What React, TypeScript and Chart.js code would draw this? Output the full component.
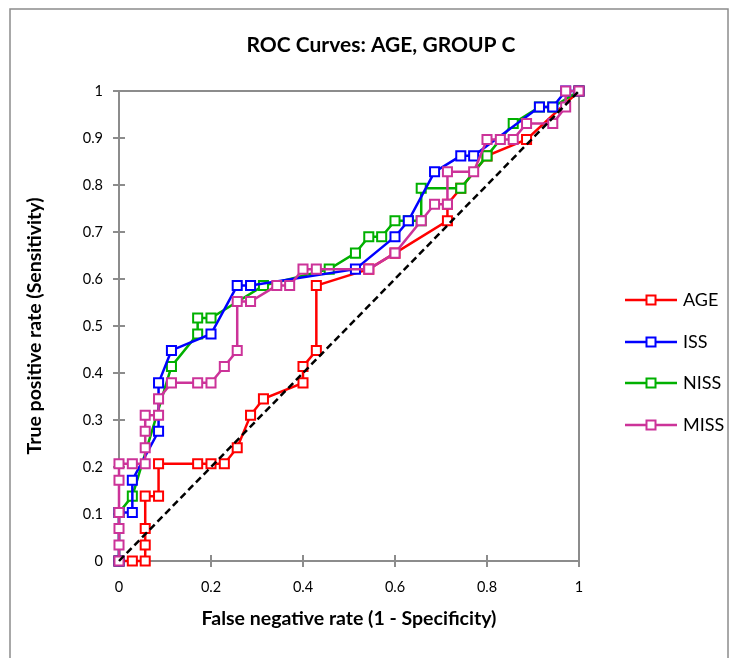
import React, { useEffect, useRef } from "react";
import { Chart, registerables } from "chart.js";

Chart.register(...registerables);

const TITLE = "ROC Curves: AGE, GROUP C";
const X_TITLE = "False negative rate (1 - Specificity)";
const Y_TITLE = "True positive rate (Sensitivity)";
const SERIES_NAMES = ["AGE", "ISS", "NISS", "MISS"];
const SERIES_COLORS = ["#FF0000", "#0000FF", "#00B000", "#CC3399"];

const AGE_X = [0, 0.029, 0.057, 0.057, 0.057, 0.057, 0.086, 0.086, 0.171, 0.2, 0.229, 0.257, 0.286, 0.314, 0.4, 0.4, 0.429, 0.429, 0.543, 0.6, 0.714, 0.714, 0.743, 0.8, 0.886, 1];
const AGE_Y = [0, 0, 0, 0.034, 0.069, 0.138, 0.138, 0.207, 0.207, 0.207, 0.207, 0.241, 0.31, 0.345, 0.379, 0.414, 0.448, 0.586, 0.621, 0.655, 0.724, 0.759, 0.793, 0.862, 0.897, 1];

const ISS_X = [0, 0, 0.029, 0.029, 0.086, 0.086, 0.114, 0.2, 0.257, 0.286, 0.514, 0.6, 0.629, 0.686, 0.743, 0.771, 0.914, 0.943, 0.971, 1];
const ISS_Y = [0, 0.103, 0.103, 0.172, 0.276, 0.379, 0.448, 0.483, 0.586, 0.586, 0.621, 0.69, 0.724, 0.828, 0.862, 0.862, 0.966, 0.966, 1, 1];

const NISS_X = [0, 0, 0.029, 0.114, 0.171, 0.171, 0.2, 0.314, 0.457, 0.514, 0.543, 0.571, 0.6, 0.629, 0.657, 0.657, 0.743, 0.8, 0.857, 0.914, 0.943, 1];
const NISS_Y = [0, 0.103, 0.138, 0.414, 0.483, 0.517, 0.517, 0.586, 0.621, 0.655, 0.69, 0.69, 0.724, 0.724, 0.724, 0.793, 0.793, 0.862, 0.931, 0.966, 0.966, 1];

const MISS_X = [0, 0, 0, 0, 0, 0, 0.029, 0.057, 0.057, 0.057, 0.057, 0.086, 0.086, 0.114, 0.171, 0.2, 0.229, 0.257, 0.257, 0.286, 0.343, 0.371, 0.4, 0.429, 0.543, 0.6, 0.657, 0.686, 0.714, 0.714, 0.771, 0.8, 0.829, 0.857, 0.886, 0.943, 0.971, 0.971, 1];
const MISS_Y = [0, 0.034, 0.069, 0.103, 0.172, 0.207, 0.207, 0.207, 0.241, 0.276, 0.31, 0.31, 0.345, 0.379, 0.379, 0.379, 0.414, 0.448, 0.552, 0.552, 0.586, 0.586, 0.621, 0.621, 0.621, 0.655, 0.724, 0.759, 0.759, 0.828, 0.828, 0.897, 0.897, 0.897, 0.931, 0.931, 0.966, 1, 1];

const DIAG_X = [0, 1];
const DIAG_Y = [0, 1];

const X_TICK_STEP = 0.2;
const Y_TICK_STEP = 0.1;

const GRAY = "#8C8C8C";
const FONT = "Lato, 'Open Sans', sans-serif";

function pts(xs: number[], ys: number[]) {
  return xs.map((x, i) => ({ x, y: ys[i] }));
}

function fmtTick(v: number | string) {
  return String(Math.round(Number(v) * 10) / 10);
}

const decorPlugin = {
  id: "decor",
  beforeDraw(chart: any) {
    const ctx = chart.ctx;
    ctx.save();
    ctx.strokeStyle = GRAY;
    ctx.lineWidth = 1.5;
    ctx.strokeRect(10, 9, 718, 700);
    ctx.restore();
  },
  beforeDatasetsDraw(chart: any) {
    const { ctx, chartArea } = chart;
    const { left, right, top, bottom } = chartArea;
    ctx.save();
    ctx.strokeStyle = GRAY;
    ctx.lineWidth = 2;
    ctx.strokeRect(left, top, right - left, bottom - top);
    const xs = chart.scales.x;
    const ys = chart.scales.y;
    ctx.beginPath();
    xs.ticks.forEach((t: any) => {
      const px = xs.getPixelForValue(t.value);
      ctx.moveTo(px, bottom);
      ctx.lineTo(px, bottom - 6);
    });
    ys.ticks.forEach((t: any) => {
      const py = ys.getPixelForValue(t.value);
      ctx.moveTo(left, py);
      ctx.lineTo(left + 6, py);
    });
    ctx.stroke();
    ctx.restore();
  },
  afterDraw(chart: any) {
    const ctx = chart.ctx;
    ctx.save();
    ctx.fillStyle = "#000";
    ctx.font = `bold 21px ${FONT}`;
    ctx.textAlign = "center";
    ctx.textBaseline = "middle";
    ctx.fillText(TITLE, 381, 45);
    const rows = [300, 342, 383, 425];
    SERIES_NAMES.forEach((name, i) => {
      const y = rows[i];
      ctx.strokeStyle = SERIES_COLORS[i];
      ctx.lineWidth = 2.5;
      ctx.beginPath();
      ctx.moveTo(625, y);
      ctx.lineTo(677, y);
      ctx.stroke();
      ctx.fillStyle = "#fff";
      ctx.lineWidth = 2;
      ctx.fillRect(646.5, y - 4.5, 9, 9);
      ctx.strokeRect(646.5, y - 4.5, 9, 9);
      ctx.fillStyle = "#000";
      ctx.font = `18px ${FONT}`;
      ctx.textAlign = "left";
      ctx.textBaseline = "middle";
      ctx.fillText(name, 683, y);
    });
    ctx.restore();
  },
};

export default function App() {
  const ref = useRef<HTMLCanvasElement | null>(null);
  useEffect(() => {
    if (!ref.current) return;
    const series = [
      pts(AGE_X, AGE_Y),
      pts(ISS_X, ISS_Y),
      pts(NISS_X, NISS_Y),
      pts(MISS_X, MISS_Y),
    ];
    const orders = [4, 2, 3, 1];
    const datasets: any[] = series.map((data, i) => ({
      label: SERIES_NAMES[i],
      data,
      borderColor: SERIES_COLORS[i],
      backgroundColor: "#FFFFFF",
      pointBackgroundColor: "#FFFFFF",
      pointBorderColor: SERIES_COLORS[i],
      pointStyle: "rect",
      pointRadius: 6.4,
      pointBorderWidth: 2,
      borderWidth: 2.5,
      showLine: true,
      tension: 0,
      clip: false,
      order: orders[i],
    }));
    datasets.push({
      label: "diag",
      data: pts(DIAG_X, DIAG_Y),
      borderColor: "#000000",
      borderWidth: 2.5,
      borderDash: [7, 4],
      pointRadius: 0,
      showLine: true,
      clip: false,
      order: 0,
    });
    const chart = new Chart(ref.current, {
      type: "scatter",
      data: { datasets },
      plugins: [decorPlugin],
      options: {
        animation: false,
        responsive: false,
        layout: { padding: { left: 8, top: 91, right: 161, bottom: 0 } },
        plugins: {
          legend: { display: false },
          title: { display: false },
          tooltip: { enabled: false },
        },
        scales: {
          x: {
            type: "linear",
            min: 0,
            max: 1,
            afterFit: (s: any) => {
              s.height = 97;
            },
            ticks: {
              stepSize: X_TICK_STEP,
              color: "#000",
              padding: 12,
              font: { family: FONT, size: 14.5 },
              callback: (v: any) => fmtTick(v),
            },
            grid: {
              drawOnChartArea: false,
              drawTicks: true,
              tickLength: 6,
              color: GRAY,
              lineWidth: 2,
            },
            border: { display: true, color: GRAY, width: 2 },
            title: {
              display: true,
              text: X_TITLE,
              color: "#000",
              font: { family: FONT, size: 19.5, weight: "bold" },
              padding: { top: 0, bottom: 28 },
            },
          },
          y: {
            type: "linear",
            min: 0,
            max: 1,
            afterFit: (s: any) => {
              s.width = 111;
            },
            ticks: {
              stepSize: Y_TICK_STEP,
              color: "#000",
              padding: 10,
              font: { family: FONT, size: 14.5 },
              callback: (v: any) => fmtTick(v),
            },
            grid: {
              drawOnChartArea: false,
              drawTicks: true,
              tickLength: 6,
              color: GRAY,
              lineWidth: 2,
            },
            border: { display: true, color: GRAY, width: 2 },
            title: {
              display: true,
              text: Y_TITLE,
              color: "#000",
              font: { family: FONT, size: 19.5, weight: "bold" },
              padding: { top: 15, bottom: 0 },
            },
          },
        },
      },
    });
    return () => chart.destroy();
  }, []);
  return (
    <div style={{ position: "absolute", left: 0, top: 0, width: 740, height: 658, background: "#fff" }}>
      <canvas ref={ref} width={740} height={658} />
    </div>
  );
}
